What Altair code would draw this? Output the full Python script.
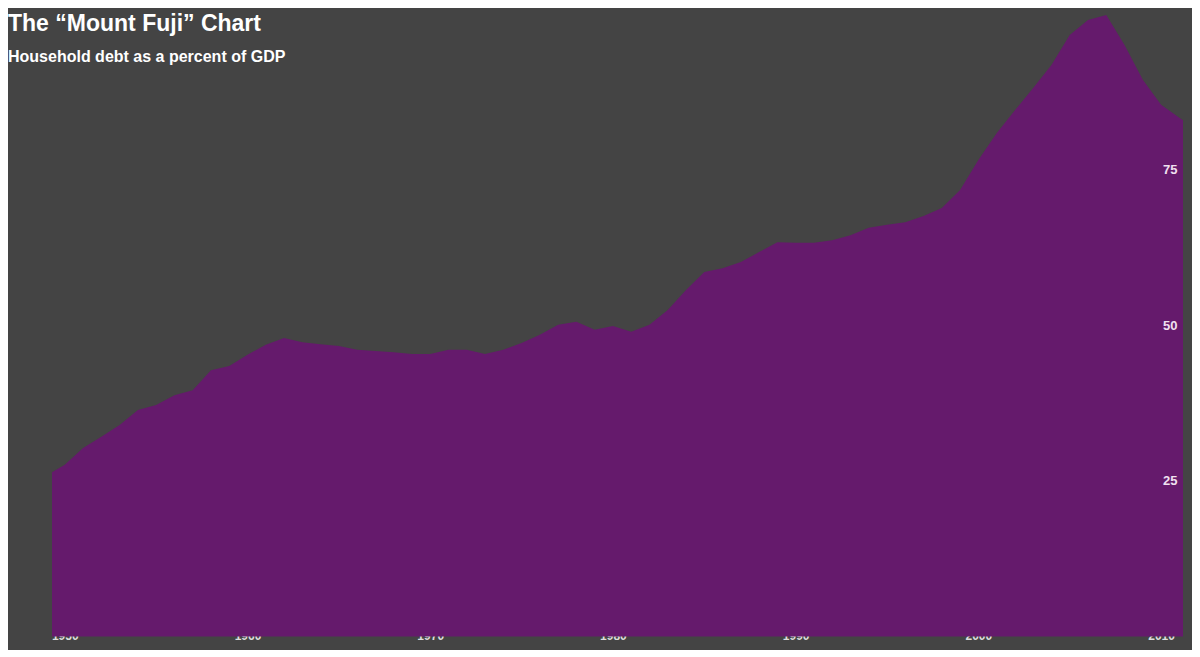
import altair as alt
import pandas as pd

years = [1949.3,1950,1951,1952,1953,1954,1955,1956,1957,1958,1959,1960,1961,1962,1963,1964,1965,1966,1967,1968,1969,1970,
         1971,1972,1973,1974,1975,1976,1977,1978,1979,1980,1981,1982,1983,1984,1985,1986,1987,1988,1989,1990,
         1991,1992,1993,1994,1995,1996,1997,1998,1999,2000,2001,2002,2003,2004,2005,2006,2007,2008,2009,2010,2011,2011.2]
debt = [26.4,27.6,30.3,32.1,34.0,36.4,37.2,38.8,39.6,42.8,43.5,45.3,46.9,48.0,47.3,47.0,46.7,46.1,45.9,45.7,45.4,45.4,
        46.1,46.1,45.4,46.1,47.2,48.5,50.1,50.6,49.3,49.9,49.0,50.1,52.5,55.7,58.6,59.2,60.2,61.8,63.4,63.3,
        63.3,63.7,64.5,65.7,66.2,66.6,67.6,68.9,71.8,76.6,80.9,84.6,88.2,91.9,96.7,99.1,99.9,95.1,89.5,85.5,83.4,83.0]
x_ticks = [1950,1960,1970,1980,1990,2000,2010]
y_ticks = [25,50,75]
title = "The “Mount Fuji” Chart"
subtitle = "Household debt as a percent of GDP"

df = pd.DataFrame({"year": years, "debt": debt})

area = alt.Chart(df).mark_area(color="#651a6c", interpolate="linear").encode(
    x=alt.X("year:Q", scale=alt.Scale(domain=[1949.3, 2011.2], nice=False, zero=False),
            axis=alt.Axis(values=x_ticks, format="d", title=None, domain=False, ticks=False, grid=False,
                          labelColor="#dddddd", labelFont="Helvetica", labelFontWeight="bold", labelFontSize=12,
                          labelPadding=10)),
    y=alt.Y("debt:Q", scale=alt.Scale(domain=[2.65, 99.92], nice=False, zero=False),
            axis=alt.Axis(orient="right", values=y_ticks, title=None, domain=False, ticks=False, grid=False,
                          labelColor="#f0e0f0", labelFont="Helvetica", labelFontWeight="bold", labelFontSize=13,
                          labelAlign="right", labelPadding=-6, zindex=1)),
)

t1 = alt.Chart(pd.DataFrame({"t": [title]})).mark_text(
    align="left", baseline="alphabetic", fontSize=23, fontWeight="bold", color="white", font="Helvetica"
).encode(x=alt.value(-44), y=alt.value(16), text="t:N")
t2 = alt.Chart(pd.DataFrame({"t": [subtitle]})).mark_text(
    align="left", baseline="alphabetic", fontSize=16, fontWeight="bold", color="white", font="Helvetica"
).encode(x=alt.value(-44), y=alt.value(47), text="t:N")

chart = alt.layer(area, t1, t2).properties(
    width=1131, height=605, background="#444444",
    autosize=alt.AutoSizeParams(type="none"),
    padding={"left": 44, "top": 7, "right": 9, "bottom": 30}
).configure_view(stroke=None)

chart.save("out.html", embed_options={"renderer": "svg", "actions": False})
